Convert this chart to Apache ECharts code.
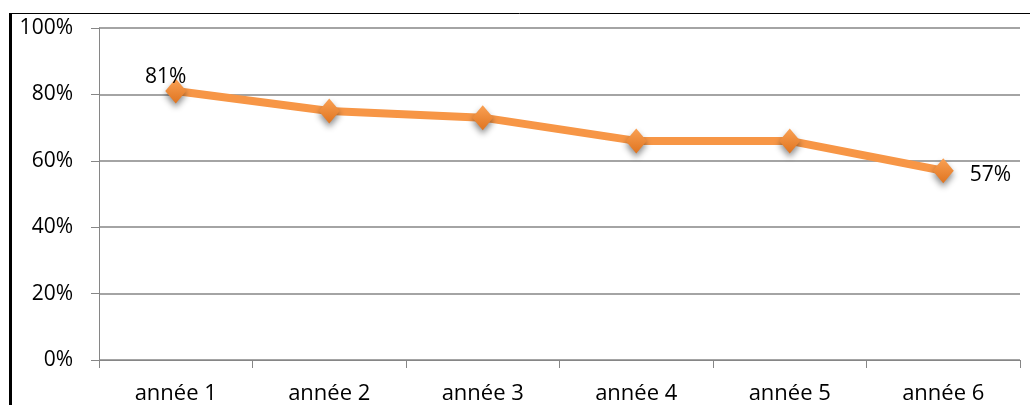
<!DOCTYPE html>
<html>
<head>
<meta charset="utf-8">
<script src="https://cdn.jsdelivr.net/npm/echarts@6/dist/echarts.min.js"></script>
<style>
html,body{margin:0;padding:0;background:#fff;}
#c{width:1031px;height:405px;}
</style>
</head>
<body>
<div id="c"></div>
<script>
const categories = ['année 1','année 2','année 3','année 4','année 5','année 6'];
const values = [81, 75, 73, 66, 66, 57];
const yTicks = [0, 20, 40, 60, 80, 100];

const chart = echarts.init(document.getElementById('c'));
const lastIdx = values.length - 1;
const seriesData = values.map((v, i) => {
  const d = { value: v };
  if (i === 0) {
    d.label = { show: true, position: 'top', offset: [-10, 14] };
  } else if (i === lastIdx) {
    d.label = { show: true, position: 'right', distance: 16, offset: [0, 4] };
  }
  return d;
});

const FONT = 'Open Sans';
chart.setOption({
  animation: false,
  grid: { left: 99, right: 11, top: 28, bottom: 45 },
  graphic: [
    { type: 'line', shape: { x1: 10.5, y1: 13, x2: 10.5, y2: 405 }, style: { stroke: '#000', lineWidth: 3 }, z: 100 },
    { type: 'line', shape: { x1: 9, y1: 13.5, x2: 1030, y2: 13.5 }, style: { stroke: '#000', lineWidth: 1 }, z: 100 }
  ],
  xAxis: {
    type: 'category',
    data: categories,
    boundaryGap: true,
    axisLine: { lineStyle: { color: '#868686', width: 1 } },
    axisTick: { show: true, length: 8, alignWithLabel: false, lineStyle: { color: '#868686' } },
    axisLabel: { color: '#000', fontFamily: FONT, fontSize: 22, margin: 23 }
  },
  yAxis: {
    type: 'value',
    min: 0, max: 100, interval: 20,
    axisLine: { show: true, lineStyle: { color: '#868686', width: 1 } },
    axisTick: { show: true, length: 8, lineStyle: { color: '#868686' } },
    splitLine: { lineStyle: { color: '#868686', width: 1.5 } },
    axisLabel: {
      color: '#000', fontFamily: FONT, fontSize: 21, margin: 26,
      formatter: v => yTicks.includes(v) ? v + '%' : ''
    }
  },
  series: [{
    type: 'line',
    data: seriesData,
    symbol: 'diamond',
    symbolSize: [21, 25],
    lineStyle: { color: '#F79646', width: 8 },
    itemStyle: {
      color: new echarts.graphic.LinearGradient(0, 0, 0, 1, [
        { offset: 0, color: '#FAA154' },
        { offset: 1, color: '#DF7420' }
      ]),
      shadowColor: 'rgba(0,0,0,0.45)',
      shadowBlur: 6,
      shadowOffsetY: 4
    },
    label: {
      show: false,
      color: '#000', fontFamily: FONT, fontSize: 21,
      formatter: p => p.value + '%'
    },
    z: 5
  }]
});
</script>
</body>
</html>
